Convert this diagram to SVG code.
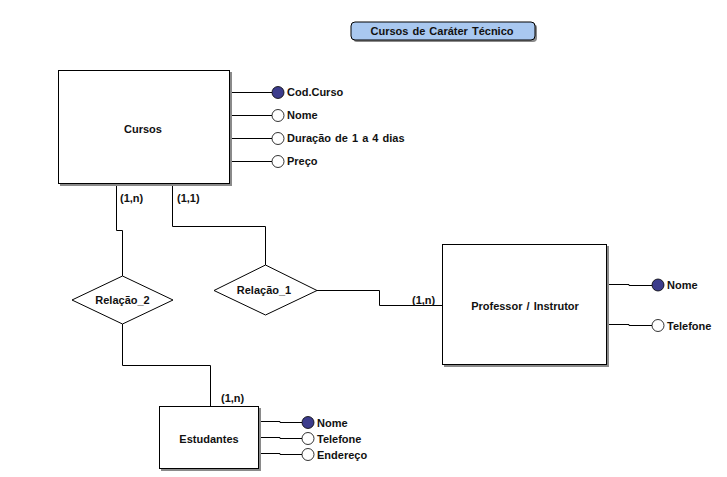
<svg xmlns="http://www.w3.org/2000/svg" width="727" height="477" viewBox="0 0 727 477">
<style>
text{font-family:"Liberation Sans",Arial,sans-serif;font-size:11px;font-weight:bold;fill:#111;word-spacing:1px;}
.box{fill:#fff;stroke:#000;stroke-width:1;}
.shadow{fill:#8a8a8a;}
.ln{fill:none;stroke:#000;stroke-width:1;}
.key{fill:#3c3c8c;stroke:#000;stroke-width:0.8;}
.att{fill:#fff;stroke:#000;stroke-width:0.8;}
.mid{text-anchor:middle;dominant-baseline:central;}
</style>
<rect width="727" height="477" fill="#fff"/>
<g id="title">
<rect x="353" y="24" width="184" height="18" rx="4" class="shadow"/>
<rect x="351" y="22" width="184" height="18" rx="4" fill="#a9c8f0" stroke="#000"/>
<text x="442" y="31" class="mid">Cursos de Caráter Técnico</text>
</g>
<g id="connectors">
<path class="ln" d="M116.5 184 V230.5 H122.5 V276"/>
<path class="ln" d="M172.5 184 V226.5 H265.5 V265"/>
<path class="ln" d="M317 290.5 H379.5 V305.5 H442"/>
<path class="ln" d="M122.5 324 V365.5 H210.5 V406"/>
<path class="ln" d="M230 92.5 H272"/>
<path class="ln" d="M230 115.5 H272"/>
<path class="ln" d="M230 138.5 H272"/>
<path class="ln" d="M230 161.5 H272"/>
<path class="ln" d="M607 284.5 H629 V285.5 H652"/>
<path class="ln" d="M607 324.5 H629 V325.5 H652"/>
<path class="ln" d="M259 421.5 H280 V422.5 H302"/>
<path class="ln" d="M259 437.5 H280 V438.5 H302"/>
<path class="ln" d="M259 453.5 H280 V454.5 H302"/>
<text x="120" y="202">(1,n)</text>
<text x="177" y="202">(1,1)</text>
<text x="412" y="304">(1,n)</text>
<text x="221" y="402">(1,n)</text>
</g>
<g id="cursos">
<rect x="60" y="72" width="172" height="114" class="shadow"/>
<rect x="58.5" y="70.5" width="171" height="113" class="box"/>
<text x="143" y="129" class="mid">Cursos</text>
</g>
<g id="cursos-attrs">
<circle cx="278" cy="92.5" r="6" class="key"/><text x="287" y="96">Cod.Curso</text>
<circle cx="278" cy="115.5" r="6" class="att"/><text x="287" y="119">Nome</text>
<circle cx="278" cy="138.5" r="6" class="att"/><text x="287" y="142">Duração de 1 a 4 dias</text>
<circle cx="278" cy="161.5" r="6" class="att"/><text x="287" y="165">Preço</text>
</g>
<g id="relacao2">
<polygon points="72,300 122.5,276 173,300 122.5,324" class="box"/>
<text x="122.5" y="300" class="mid">Relação_2</text>
</g>
<g id="relacao1">
<polygon points="214,290.5 265.5,265 317,290.5 265.5,315" class="box"/>
<text x="264" y="290" class="mid">Relação_1</text>
</g>
<g id="professor">
<rect x="444" y="246" width="165" height="121" class="shadow"/>
<rect x="442.5" y="244.5" width="164" height="120" class="box"/>
<text x="525" y="306" class="mid">Professor / Instrutor</text>
<circle cx="658" cy="285" r="6" class="key"/><text x="667" y="289">Nome</text>
<circle cx="658" cy="325.5" r="6" class="att"/><text x="667" y="329.5">Telefone</text>
</g>
<g id="estudantes">
<rect x="161" y="408" width="100" height="63" class="shadow"/>
<rect x="159.5" y="406.5" width="99" height="62" class="box"/>
<text x="209" y="439" class="mid">Estudantes</text>
<circle cx="308" cy="422.5" r="6" class="key"/><text x="317" y="426.5">Nome</text>
<circle cx="308" cy="438.5" r="6" class="att"/><text x="317" y="442.5">Telefone</text>
<circle cx="308" cy="454.5" r="6" class="att"/><text x="317" y="458.5">Endereço</text>
</g>
</svg>
